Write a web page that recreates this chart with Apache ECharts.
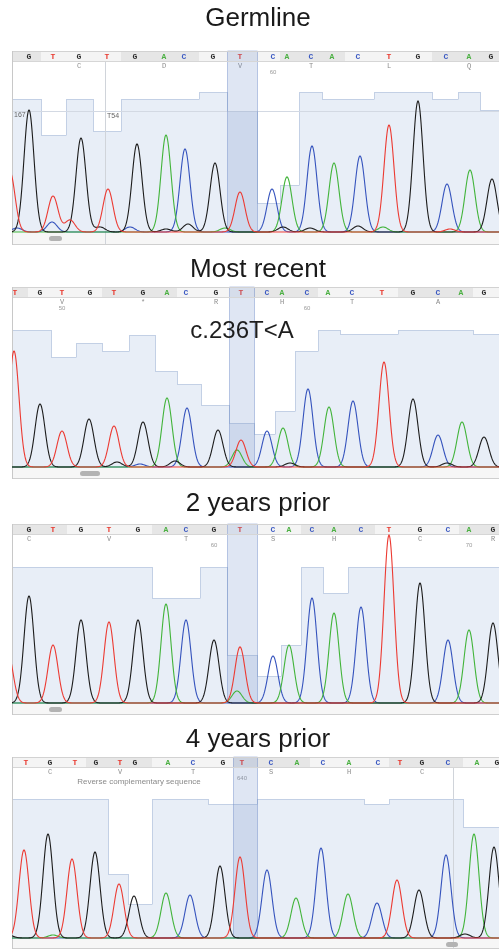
<!DOCTYPE html>
<html><head><meta charset="utf-8">
<script src="https://cdn.jsdelivr.net/npm/echarts@6/dist/echarts.min.js"></script>
<style>html,body{margin:0;padding:0;background:#fff}#c{width:499px;height:950px}</style>
</head><body><div id="c"></div>
<script>
// ---------- DATA ----------
const titles = ['Germline', 'Most recent', '2 years prior', '4 years prior'];

// Panel 1 : Germline
const bases1 = ['G','T','G','T','G','A','C','G','T','C','A','C','A','C','T','G','C','A','G'];
const pos1   = [29,53,79,107,135,164,184,213,240,273,287,311,332,358,389,418,446,469,491];
const qual1  = [133,97,133,101,133,133,133,140,121,29,47,140,133,133,140,140,133,140,122];
const amino1 = [[2,'C'],[5,'D'],[8,'V'],[11,'T'],[14,'L'],[17,'Q']];
const nums1  = [[9,'60']];
const black1 = [[29,122],[81,94],[100,5],[137,88],[166,3],[188,8],[215,69],[283,5],[310,4],[358,6],[418,131],[492,53]];
const red1   = [[10,60],[53,36],[70,12],[108,43],[240,40],[389,107],[450,3]];
const green1 = [[166,97],[225,4],[287,55],[334,69],[383,5],[470,62]];
const blue1  = [[17,4],[52,10],[130,5],[185,83],[272,43],[312,86],[360,76],[447,48]];

// Panel 2 : Most recent
const bases2 = ['T','G','T','G','T','G','A','C','G','T','C','A','C','A','C','T','G','C','A','G'];
const pos2   = [15,40,62,90,114,143,167,186,216,241,267,282,307,328,352,382,413,438,461,484];
const qual2  = [137,137,110,124,116,132,96,83,62,44,33,56,116,137,133,133,137,137,137,133];
const amino2 = [[2,'V'],[5,'*'],[8,'R'],[11,'H'],[14,'T'],[17,'A']];
const nums2  = [[2,'50'],[12,'60']];
const black2 = [[40,63],[89,48],[117,5],[143,45],[175,6],[218,37],[290,4],[413,68],[447,4],[484,30]];
const red2   = [[14,116],[62,36],[114,41],[241,27],[384,105]];
const green2 = [[167,69],[237,17],[283,39],[329,60],[462,45]];
const blue2  = [[140,3],[187,59],[267,36],[308,78],[353,66],[438,32]];

// Panel 3 : 2 years prior
const bases3 = ['G','T','G','T','G','A','C','G','T','C','A','C','A','C','T','G','C','A','G'];
const pos3   = [29,53,81,109,138,166,186,214,240,273,289,312,334,361,389,420,448,469,493];
const qual3  = [136,136,136,136,136,105,105,136,48,27,58,136,110,136,136,136,136,136,136];
const amino3 = [[0,'C'],[3,'V'],[6,'T'],[9,'S'],[12,'H'],[15,'C'],[18,'R']];
const nums3  = [[7,'60'],[17,'70']];
const black3 = [[29,107],[81,83],[138,83],[214,63],[420,120],[493,80]];
const red3   = [[8,50],[53,58],[109,81],[240,56],[389,168]];
const green3 = [[166,99],[237,12],[289,58],[334,90],[469,73]];
const blue3  = [[186,83],[273,47],[312,105],[361,96],[448,63]];

// Panel 4 : 4 years prior
const bases4 = ['T','G','T','G','T','G','A','C','G','T','C','A','C','A','C','T','G','C','A','G'];
const pos4   = [26,50,75,96,120,135,168,193,223,242,271,297,323,349,378,400,422,448,477,497];
const qual4  = [139,139,139,139,64,34,139,139,134,134,139,139,139,139,134,139,139,139,111,111];
const amino4 = [[1,'C'],[4,'V'],[7,'T'],[10,'S'],[13,'H'],[16,'C']];
const nums4  = [[9,'640']];
const black4 = [[8,3],[48,104],[95,86],[134,42],[220,72],[419,48],[465,4],[494,91]];
const red4   = [[24,88],[72,79],[119,54],[240,81],[397,58]];
const green4 = [[53,3],[166,45],[296,40],[348,44],[474,104]];
const blue4  = [[190,43],[267,68],[321,90],[377,35],[446,83]];

// frame = index of the first full codon; highlights = highlighted base index
const frames = [1, 1, 2, 0];
const highlights = [8, 9, 8, 9];

// ---------- LAYOUT / STYLE ----------
const X_MIN = 12, X_MAX = 499, SIGMA = 5, STRIP_H = 10;
const L = [
  {tc: 18.5, strip: 51, top: 61, base: 232, bottom: 244, thumb: [49, 62]},
  {tc: 269.5, strip: 287, top: 297, base: 467, bottom: 478, thumb: [80, 100]},
  {tc: 503.5, strip: 524, top: 534, base: 703, bottom: 714, thumb: [49, 62]},
  {tc: 739.5, strip: 757, top: 767, base: 938, bottom: 948, thumb: [446, 458]}
];
const BASE_COL = {G: '#2b2b2b', T: '#e8392f', A: '#4cb043', C: '#3a58c2'};
const TRACE_COL = {blue: '#3553bd', green: '#42b43a', black: '#1c1c1c', red: '#ec3a32'};

const panels = [
  {bases: bases1, pos: pos1, qual: qual1, amino: amino1, nums: nums1, tr: {blue: blue1, green: green1, black: black1, red: red1}},
  {bases: bases2, pos: pos2, qual: qual2, amino: amino2, nums: nums2, tr: {blue: blue2, green: green2, black: black2, red: red2}},
  {bases: bases3, pos: pos3, qual: qual3, amino: amino3, nums: nums3, tr: {blue: blue3, green: green3, black: black3, red: red3}},
  {bases: bases4, pos: pos4, qual: qual4, amino: amino4, nums: nums4, tr: {blue: blue4, green: green4, black: black4, red: red4}}
];

function edges(pos, i) {
  const xl = i === 0 ? X_MIN : (pos[i - 1] + pos[i]) / 2;
  const xr = i === pos.length - 1 ? X_MAX : (pos[i] + pos[i + 1]) / 2;
  return [xl, xr];
}

const grids = [], xAxes = [], yAxes = [], series = [], graphics = [];

panels.forEach((P, p) => {
  const lay = L[p];
  grids.push({left: X_MIN, width: X_MAX - X_MIN, top: lay.top, height: lay.base - lay.top + 1});
  xAxes.push({gridIndex: p, type: 'value', min: X_MIN, max: X_MAX, show: false});
  yAxes.push({gridIndex: p, type: 'value', min: -1, max: lay.base - lay.top, show: false});

  // quality bars
  series.push({
    type: 'custom', xAxisIndex: p, yAxisIndex: p, z: 1, silent: true, clip: false,
    data: P.pos.map((x, i) => [x, P.qual[i]]),
    renderItem: (params, api) => {
      const i = params.dataIndex;
      const [xl, xr] = edges(P.pos, i);
      const q = api.value(1);
      const a = api.coord([xl, q]), b = api.coord([xr, 0]);
      const prev = i === 0 ? q : P.qual[i - 1];
      const pp = api.coord([xl, prev]);
      const x0 = Math.round(a[0]), x1 = Math.round(b[0]);
      const ya = Math.round(a[1]) + 0.5, yp = Math.round(pp[1]) + 0.5;
      const ch = [{type: 'rect', shape: {x: x0, y: Math.round(a[1]), width: x1 - x0, height: Math.round(b[1]) - Math.round(a[1])}, style: {fill: '#e8eef7'}}];
      if (prev !== q) ch.push({type: 'line', shape: {x1: x0 + 0.5, y1: yp, x2: x0 + 0.5, y2: ya}, style: {stroke: '#c3d0e5', lineWidth: 1}});
      ch.push({type: 'line', shape: {x1: x0, y1: ya, x2: x1 + 1, y2: ya}, style: {stroke: '#c3d0e5', lineWidth: 1}});
      return {type: 'group', children: ch};
    }
  });

  // sequence strip + amino acids
  series.push({
    type: 'custom', xAxisIndex: p, yAxisIndex: p, z: 2, silent: true, clip: false,
    data: P.pos.map((x, i) => [x, i]),
    renderItem: (params, api) => {
      const i = params.dataIndex;
      const cs = params.coordSys;
      const [xl, xr] = edges(P.pos, i);
      const a = api.coord([xl, 0]), b = api.coord([xr, 0]), c = api.coord([P.pos[i], 0]);
      const codon = Math.floor((i - frames[p]) / 3);
      const fill = ((codon % 2) + 2) % 2 === 0 ? '#f4f4f4' : '#e6e6e6';
      const y0 = cs.y - STRIP_H;
      const x0 = Math.round(a[0]), x1 = Math.round(b[0]);
      const ch = [
        {type: 'rect', shape: {x: x0, y: y0, width: x1 - x0, height: STRIP_H}, style: {fill: fill}},
        {type: 'text', x: c[0], y: y0 + STRIP_H / 2 + 0.5, style: {text: P.bases[i], fill: BASE_COL[P.bases[i]], font: 'bold 8px "Liberation Mono"', align: 'center', verticalAlign: 'middle'}}
      ];
      P.amino.forEach(([k, t]) => { if (k === i) ch.push({type: 'text', x: c[0], y: cs.y + 5, style: {text: t, fill: '#8c8c8c', font: '7px "Liberation Mono"', align: 'center', verticalAlign: 'middle'}}); });
      P.nums.forEach(([k, t]) => { if (k === i) ch.push({type: 'text', x: c[0], y: cs.y + 11, style: {text: t, fill: '#9a9a9a', font: '6px "Liberation Sans"', align: 'center', verticalAlign: 'middle'}}); });
      return {type: 'group', children: ch};
    }
  });

  // highlighted column
  series.push({
    type: 'custom', xAxisIndex: p, yAxisIndex: p, z: 3, silent: true, clip: false,
    data: [[P.pos[highlights[p]], highlights[p]]],
    renderItem: (params, api) => {
      const i = api.value(1);
      const cs = params.coordSys;
      const [xl, xr] = edges(P.pos, i);
      const a = api.coord([xl, 0]), b = api.coord([xr, 0]);
      const x0 = Math.round(a[0]) + 0.5, x1 = Math.round(b[0]) + 0.5;
      return {type: 'rect', shape: {x: x0, y: cs.y - STRIP_H, width: x1 - x0, height: L[p].base - cs.y + STRIP_H},
        style: {fill: 'rgba(110,140,200,0.22)', stroke: 'rgba(110,140,200,0.45)', lineWidth: 1}};
    }
  });

  // traces
  ['blue', 'green', 'black', 'red'].forEach((k, j) => {
    const peaks = P.tr[k];
    series.push({
      type: 'custom', xAxisIndex: p, yAxisIndex: p, z: 5 + j, silent: true, clip: true,
      data: peaks,
      renderItem: (params, api) => {
        if (params.dataIndex !== 0) return null;
        const pts = [];
        for (let x = X_MIN - 2; x <= X_MAX + 2; x += 0.5) {
          let y = 0;
          for (const [c, h] of peaks) { const d = (x - c) / SIGMA; if (Math.abs(d) < 6) y += h * Math.exp(-0.5 * d * d); }
          pts.push(api.coord([x, y]));
        }
        return {type: 'polyline', shape: {points: pts}, style: {stroke: TRACE_COL[k], lineWidth: 1.1, fill: null}};
      }
    });
  });

  // chrome: title, strip borders, scroll area, left border
  graphics.push({type: 'text', x: 258, y: lay.tc, z: 20, style: {text: titles[p], font: '26px "Liberation Sans"', fill: '#1a1a1a', textAlign: 'center', textVerticalAlign: 'middle'}});
  graphics.push({type: 'line', z: 4, shape: {x1: X_MIN, y1: lay.strip + 0.5, x2: X_MAX, y2: lay.strip + 0.5}, style: {stroke: '#d2d2d2', lineWidth: 1}});
  graphics.push({type: 'line', z: 4, shape: {x1: X_MIN, y1: lay.top + 0.5, x2: X_MAX, y2: lay.top + 0.5}, style: {stroke: '#d6d6d6', lineWidth: 1}});
  graphics.push({type: 'rect', z: 0, shape: {x: X_MIN, y: lay.base + 1, width: X_MAX - X_MIN, height: lay.bottom - lay.base - 1}, style: {fill: '#f6f6f6'}});
  graphics.push({type: 'line', z: 4, shape: {x1: X_MIN, y1: lay.bottom + 0.5, x2: X_MAX, y2: lay.bottom + 0.5}, style: {stroke: '#cfcfcf', lineWidth: 1}});
  graphics.push({type: 'line', z: 4, shape: {x1: X_MIN + 0.5, y1: lay.strip, x2: X_MIN + 0.5, y2: lay.bottom + 1}, style: {stroke: '#c8c8c8', lineWidth: 1}});
  graphics.push({type: 'rect', z: 4, shape: {x: lay.thumb[0], y: lay.base + 4, width: lay.thumb[1] - lay.thumb[0], height: 5, r: 2.5}, style: {fill: '#b3b3b3'}});
});

// panel-specific annotations
graphics.push({type: 'line', z: 2, shape: {x1: X_MIN, y1: 111.5, x2: X_MAX, y2: 111.5}, style: {stroke: '#d3d9e3', lineWidth: 1}});
graphics.push({type: 'line', z: 2, shape: {x1: 105.5, y1: 51, x2: 105.5, y2: 244}, style: {stroke: '#d0d4da', lineWidth: 1}});
graphics.push({type: 'text', x: 14, y: 115, z: 9, style: {text: '167', font: '7px "Liberation Sans"', fill: '#666', textVerticalAlign: 'middle'}});
graphics.push({type: 'text', x: 107, y: 116, z: 9, style: {text: 'T54', font: '7px "Liberation Sans"', fill: '#666', textVerticalAlign: 'middle'}});
graphics.push({type: 'text', x: 242, y: 331.5, z: 20, style: {text: 'c.236T<A', font: '24px "Liberation Sans"', fill: '#1e1e1e', textAlign: 'center', textVerticalAlign: 'middle'}});
graphics.push({type: 'line', z: 2, shape: {x1: 453.5, y1: 757, x2: 453.5, y2: 948}, style: {stroke: '#d0d4da', lineWidth: 1}});
graphics.push({type: 'text', x: 139, y: 782, z: 9, style: {text: 'Reverse complementary sequence', font: '8px "Liberation Sans"', fill: '#8a8a8a', textAlign: 'center', textVerticalAlign: 'middle'}});

const chart = echarts.init(document.getElementById('c'), null, {renderer: 'canvas'});
chart.setOption({
  animation: false,
  backgroundColor: '#fff',
  grid: grids, xAxis: xAxes, yAxis: yAxes, series: series, graphic: graphics
});
</script></body></html>
